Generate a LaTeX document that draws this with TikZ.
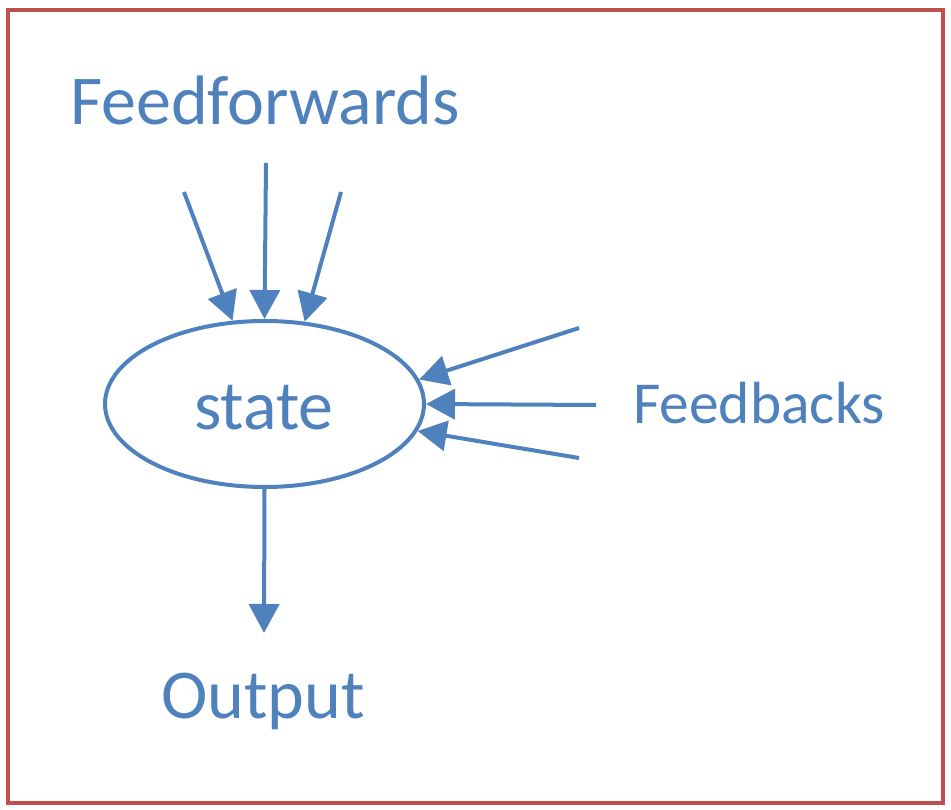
\documentclass[tikz,border=0pt]{standalone}
\usepackage{fontspec}
\setmainfont{Carlito}
\usetikzlibrary{arrows.meta,shapes.geometric}
\definecolor{offblue}{RGB}{79,129,189}
\definecolor{offred}{RGB}{192,80,77}
\tikzset{
  lbl/.style={text=offblue, inner sep=0pt, anchor=base},
  big/.style={font=\fontsize{70}{84}\selectfont},
  mid/.style={font=\fontsize{59.5}{72}\selectfont},
  conn/.style={draw=offblue, line width=4pt, -{Triangle[length=29pt,width=30pt]}},
}
\begin{document}
\begin{tikzpicture}[x=1pt,y=-1pt]
\useasboundingbox (0,0) rectangle (951,810);
\draw[offred, line width=4pt] (7.5,10) rectangle (943,803);
\node[ellipse, draw=offblue, line width=4pt, minimum width=319pt, minimum height=166pt, inner sep=0pt] (st) at (264.5,404) {};
\node[lbl,big] (stt) at (264,429) {state};
\node[lbl,big] (ff) at (265,125) {Feedforwards};
\node[lbl,mid] (fb) at (759,423) {Feedbacks};
\node[lbl,big] (out) at (263,718) {Output};
\coordinate (a1) at (184,192);
\coordinate (a2) at (266,163);
\coordinate (a3) at (341,192);
\coordinate (b1) at (579,328);
\coordinate (b2) at (596,405);
\coordinate (b3) at (579,458);
\coordinate (o) at (264,633);
\draw[conn] (a1) -- (st.111.6);
\draw[conn] (a2) -- (st.90);
\draw[conn] (a3) -- (st.64);
\draw[conn] (b1) -- (st.9.4);
\draw[conn] (b2) -- (st.0);
\draw[conn] (b3) -- (st.-10.7);
\draw[conn] (st.south) -- (o);
\end{tikzpicture}
\end{document}
